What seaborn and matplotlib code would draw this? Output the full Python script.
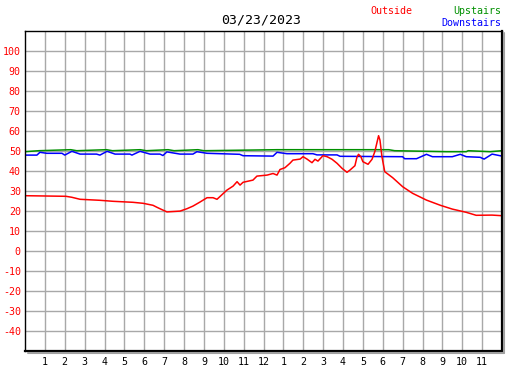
import matplotlib
matplotlib.use("Agg")
import matplotlib.pyplot as plt
from matplotlib.lines import Line2D
import seaborn as sns
import pandas as pd

title = "03/23/2023"

outside_h = [0, 2.06, 2.36, 2.77, 3.77, 4.43, 5.43, 5.94, 6.44, 6.64, 6.94, 7.14, 7.8, 8.15,
             8.45, 8.8, 9.16, 9.46, 9.66, 10.16, 10.47, 10.67, 10.82, 10.97, 11.47, 11.67,
             12.18, 12.48, 12.68, 12.83, 13.08, 13.33, 13.48, 13.84, 13.99, 14.19, 14.44,
             14.59, 14.74, 14.99, 15.2, 15.45, 15.7, 15.95, 16.2, 16.35, 16.6, 16.7, 16.78,
             16.9, 17.0, 17.26, 17.46, 17.6, 17.7, 17.79, 17.86, 17.96, 18.1, 18.5, 19.0,
             19.5, 20.2, 20.9, 21.5, 22.2, 22.7, 23.5, 24.0]
outside_t = [27.5, 27.2, 26.7, 25.7, 25.2, 24.7, 24.2, 23.7, 22.7, 21.7, 20.3, 19.4, 19.8, 21.0,
             22.3, 24.3, 26.5, 26.5, 25.7, 30.3, 32.3, 34.5, 32.8, 34.2, 35.3, 37.3,
             37.8, 38.6, 37.8, 40.6, 41.5, 43.7, 45.3, 45.8, 47.0, 45.8, 44.0,
             45.7, 44.8, 47.5, 47.0, 45.7, 43.7, 41.2, 39.2, 40.3, 42.5, 46.7, 48.2,
             47.0, 44.5, 43.2, 45.7, 49.5, 53.7, 57.5, 55.3, 47.0, 39.5, 36.5, 32.0,
             28.7, 25.3, 22.7, 20.8, 19.2, 17.7, 17.8, 17.5]

up_h = [0, 0.7, 2.3, 2.6, 4.1, 4.4, 5.8, 6.1, 7.2, 7.5, 8.7, 9.0, 12.7, 18.3, 18.6,
        21.2, 22.2, 22.3, 23.4, 24.0]
up_t = [49.5, 50.0, 50.5, 50.0, 50.5, 50.0, 50.5, 50.0, 50.5, 50.0, 50.5, 50.0, 50.5, 50.5, 50.0,
        49.5, 49.5, 50.0, 49.5, 50.0]

down_h = [0, 0.6, 0.75, 1.1, 1.86, 2.0, 2.36, 2.77, 3.6, 3.77, 4.13, 4.53, 5.28, 5.38, 5.79,
          6.29, 6.79, 6.94, 7.14, 7.8, 8.45, 8.65, 9.16, 9.81, 10.8, 10.97, 12.48, 12.68,
          13.18, 14.49, 14.69, 15.7, 15.85, 19.0, 19.1, 19.7, 20.2, 20.5, 21.5, 21.9, 22.2,
          22.9, 23.1, 23.5, 24.0]
down_t = [47.8, 47.8, 49.2, 48.7, 48.7, 47.8, 49.7, 48.3, 48.3, 47.8, 49.7, 48.3, 48.3, 47.8, 49.7,
          48.3, 48.3, 47.6, 49.4, 48.3, 48.3, 49.5, 48.7, 48.5, 48.2, 47.5, 47.3, 49.2,
          48.5, 48.5, 47.9, 47.9, 47.2, 47.0, 46.0, 46.0, 48.2, 47.0, 47.0, 48.2, 47.0,
          46.7, 45.8, 48.3, 47.3]

hour_ticks = list(range(1, 24))
hour_labels = [str(h) for h in range(1, 13)] + [str(h) for h in range(1, 12)]
temp_ticks = list(range(-40, 101, 10))

RED = "#ff0000"
GREEN = "#009000"
BLUE = "#0000ff"

sns.set_style("white")
plt.rcParams['font.family'] = ['DejaVu Sans Mono']

W, H = 527, 370
fig = plt.figure(figsize=(W / 100, H / 100), dpi=100)
ax = fig.add_axes([25 / W, 1 - 350.7 / H, 477 / W, 320 / H])

df_up = pd.DataFrame({"h": up_h, "t": up_t})
df_down = pd.DataFrame({"h": down_h, "t": down_t})
df_out = pd.DataFrame({"h": outside_h, "t": outside_t})

sns.lineplot(data=df_up, x="h", y="t", color=GREEN, lw=1.1, estimator=None, sort=False, ax=ax)
sns.lineplot(data=df_down, x="h", y="t", color=BLUE, lw=1.1, estimator=None, sort=False, ax=ax)
sns.lineplot(data=df_out, x="h", y="t", color=RED, lw=1.1, estimator=None, sort=False, ax=ax)

ax.set_xlim(0, 24)
ax.set_ylim(-50, 110)
ax.set_xticks(hour_ticks)
ax.set_xticklabels(hour_labels)
ax.set_yticks(temp_ticks)
ax.set_yticklabels([str(t) for t in temp_ticks])
ax.set_xlabel("")
ax.set_ylabel("")
ax.grid(True, color="#a8a8a8", lw=1)
ax.set_axisbelow(True)
ax.tick_params(axis="both", direction="in", length=4, width=1, color="black",
               labelsize=7.2)
ax.tick_params(axis="x", pad=4.5, labelcolor="black")
ax.tick_params(axis="y", pad=3, labelcolor=RED)
for s in ax.spines.values():
    s.set_color("black")
    s.set_linewidth(1)
    s.set_visible(True)
ax.spines["right"].set_linewidth(1.6)
ax.spines["bottom"].set_linewidth(1.6)

# drop shadow on right and bottom
fig.add_artist(Line2D([503.6 / W, 503.6 / W], [1 - 33 / H, 1 - 352.5 / H],
                      transform=fig.transFigure, color="#a0a0a0", lw=1.5))
fig.add_artist(Line2D([28 / W, 504 / W], [1 - 352.6 / H, 1 - 352.6 / H],
                      transform=fig.transFigure, color="#a0a0a0", lw=1.5))

fig.text(261 / W, 1 - 20 / H, title, ha="center", va="center", fontsize=9.5, color="black")
fig.text(370 / W, 1 - 11 / H, "Outside", ha="left", va="center", fontsize=7.2, color=RED)
fig.text(501 / W, 1 - 11 / H, "Upstairs", ha="right", va="center", fontsize=7.2, color=GREEN)
fig.text(501 / W, 1 - 23 / H, "Downstairs", ha="right", va="center", fontsize=7.2, color=BLUE)

fig.savefig("out.png", dpi=100)
